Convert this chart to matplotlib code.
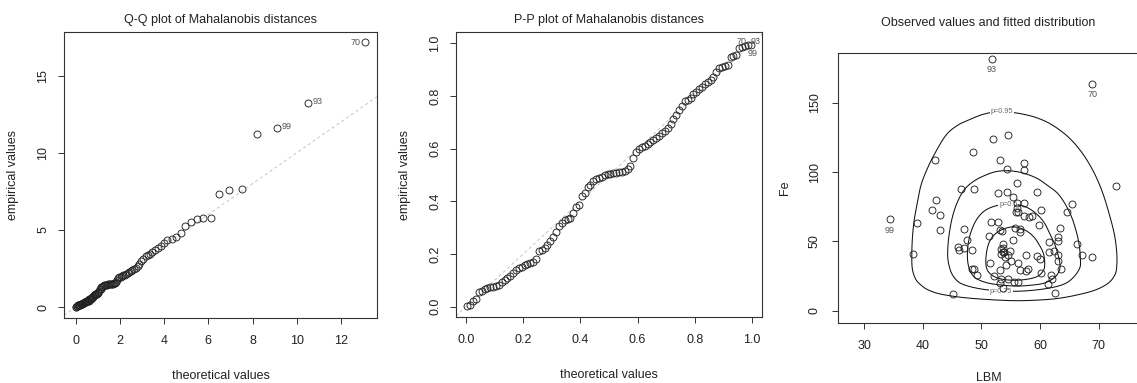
import numpy as np
import matplotlib
matplotlib.use("Agg")
import matplotlib.pyplot as plt

plt.rcParams['font.family'] = ['Liberation Sans', 'DejaVu Sans']

# ---------------- data ----------------
# Q-Q plot: theoretical vs empirical (sorted) Mahalanobis distances
qq_theoretical = [0.01, 0.03, 0.05, 0.07, 0.10, 0.12, 0.14, 0.16, 0.18, 0.21,
                  0.23, 0.25, 0.28, 0.30, 0.32, 0.35, 0.37, 0.40, 0.42, 0.45,
                  0.48, 0.50, 0.53, 0.56, 0.59, 0.61, 0.64, 0.67, 0.70, 0.73,
                  0.76, 0.79, 0.82, 0.85, 0.89, 0.92, 0.95, 0.99, 1.02, 1.06,
                  1.09, 1.13, 1.16, 1.20, 1.24, 1.28, 1.32, 1.36, 1.40, 1.44,
                  1.49, 1.53, 1.58, 1.62, 1.67, 1.72, 1.77, 1.82, 1.87, 1.93,
                  1.98, 2.04, 2.10, 2.16, 2.22, 2.28, 2.35, 2.42, 2.49, 2.56,
                  2.64, 2.71, 2.80, 2.88, 2.97, 3.06, 3.16, 3.26, 3.36, 3.47,
                  3.59, 3.71, 3.84, 3.98, 4.13, 4.34, 4.54, 4.76, 4.96, 5.20,
                  5.49, 5.76, 6.10, 6.48, 6.95, 7.51, 8.20, 9.12, 10.52, 13.08]
qq_empirical = [0.01, 0.01, 0.04, 0.06, 0.12, 0.13, 0.15, 0.15, 0.16, 0.16,
                0.17, 0.17, 0.21, 0.22, 0.24, 0.26, 0.29, 0.31, 0.32, 0.34,
                0.36, 0.37, 0.38, 0.39, 0.41, 0.49, 0.50, 0.52, 0.56, 0.60,
                0.64, 0.69, 0.77, 0.80, 0.83, 0.85, 0.86, 0.92, 1.00, 1.02,
                1.15, 1.18, 1.28, 1.31, 1.37, 1.40, 1.42, 1.44, 1.46, 1.48,
                1.49, 1.50, 1.50, 1.51, 1.52, 1.53, 1.57, 1.63, 1.78, 1.88,
                1.96, 1.98, 2.01, 2.06, 2.10, 2.14, 2.19, 2.24, 2.32, 2.37,
                2.46, 2.56, 2.68, 2.82, 3.00, 3.13, 3.31, 3.35, 3.44, 3.60,
                3.71, 3.84, 3.98, 4.13, 4.36, 4.43, 4.56, 4.78, 5.23, 5.51,
                5.69, 5.75, 5.79, 7.31, 7.57, 7.63, 11.20, 11.63, 13.25, 17.17]
qq_labels = {99: ("70", "left"), 98: ("93", "right"), 97: ("99", "right")}

# P-P plot
pp_theoretical = [0.005, 0.015, 0.025, 0.035, 0.045, 0.055, 0.065, 0.075, 0.085, 0.095,
                  0.105, 0.115, 0.125, 0.135, 0.145, 0.155, 0.165, 0.175, 0.185, 0.195,
                  0.205, 0.215, 0.225, 0.235, 0.245, 0.255, 0.265, 0.275, 0.285, 0.295,
                  0.305, 0.315, 0.325, 0.335, 0.345, 0.355, 0.365, 0.375, 0.385, 0.395,
                  0.405, 0.415, 0.425, 0.435, 0.445, 0.455, 0.465, 0.475, 0.485, 0.495,
                  0.505, 0.515, 0.525, 0.535, 0.545, 0.555, 0.565, 0.575, 0.585, 0.595,
                  0.605, 0.615, 0.625, 0.635, 0.645, 0.655, 0.665, 0.675, 0.685, 0.695,
                  0.705, 0.715, 0.725, 0.735, 0.745, 0.755, 0.765, 0.775, 0.785, 0.795,
                  0.805, 0.815, 0.825, 0.835, 0.845, 0.855, 0.865, 0.875, 0.885, 0.895,
                  0.905, 0.915, 0.925, 0.935, 0.945, 0.955, 0.965, 0.975, 0.985, 0.995]
pp_empirical = [0.003, 0.006, 0.022, 0.028, 0.055, 0.060, 0.068, 0.072, 0.074, 0.076,
                0.078, 0.082, 0.095, 0.100, 0.108, 0.118, 0.128, 0.138, 0.146, 0.152,
                0.158, 0.163, 0.167, 0.171, 0.180, 0.210, 0.216, 0.222, 0.236, 0.250,
                0.266, 0.282, 0.308, 0.318, 0.328, 0.334, 0.338, 0.355, 0.378, 0.386,
                0.420, 0.430, 0.455, 0.462, 0.478, 0.484, 0.489, 0.494, 0.499, 0.503,
                0.505, 0.507, 0.508, 0.510, 0.512, 0.515, 0.522, 0.536, 0.566, 0.586,
                0.600, 0.605, 0.610, 0.618, 0.625, 0.632, 0.640, 0.648, 0.660, 0.668,
                0.680, 0.695, 0.712, 0.728, 0.748, 0.762, 0.780, 0.784, 0.792, 0.806,
                0.815, 0.825, 0.835, 0.845, 0.852, 0.862, 0.874, 0.892, 0.905, 0.910,
                0.914, 0.918, 0.948, 0.952, 0.956, 0.982, 0.986, 0.989, 0.992, 0.995]
pp_labels = {99: ("70", "left"), 98: ("93", "right"), 97: ("99", "right")}

# Observed values (LBM, Fe)
lbm = [51.8, 68.9, 34.3, 73.0, 38.3, 39.0, 45.2, 62.5, 54.5, 52.0,
       48.6, 42.0, 53.1, 57.3, 57.2, 54.4, 56.1, 46.5, 48.8, 52.8,
       54.4, 59.4, 42.2, 41.5, 43.0, 65.5, 64.6, 55.4, 56.0, 57.3,
       60.2, 56.0, 56.3, 55.9, 57.2, 58.2, 58.6, 59.9, 51.6, 52.8,
       63.4, 47.0, 43.0, 53.2, 53.5, 55.8, 56.6, 56.6, 51.2, 63.0,
       61.5, 63.0, 55.4, 47.6, 53.7, 66.3, 46.0, 47.0, 46.2, 48.3,
       53.4, 53.6, 53.3, 53.8, 54.8, 54.6, 54.1, 62.4, 63.0, 57.6,
       61.6, 67.1, 68.8, 59.5, 60.0, 63.0, 55.0, 54.2, 51.4, 56.3,
       63.5, 48.4, 48.8, 49.2, 53.2, 56.5, 57.9, 57.6, 60.1, 61.8,
       62.0, 52.2, 53.3, 54.6, 55.5, 56.3, 53.1, 53.7, 61.4, 53.6]
fe = [182.0, 163.9, 65.9, 90.0, 40.9, 63.1, 11.8, 12.8, 127.1, 124.0,
      114.8, 108.8, 108.8, 106.9, 101.8, 102.1, 91.9, 87.9, 87.9, 85.0,
      86.0, 86.0, 79.9, 72.7, 69.1, 77.0, 71.0, 82.3, 78.0, 78.0,
      72.9, 73.9, 71.0, 71.5, 68.6, 67.9, 68.2, 62.1, 64.0, 64.0,
      59.9, 59.0, 58.0, 58.0, 57.8, 59.9, 58.7, 57.0, 54.2, 52.9,
      49.8, 50.0, 50.9, 50.9, 47.9, 47.9, 46.2, 45.0, 44.0, 44.0,
      44.2, 42.1, 40.9, 42.0, 43.1, 40.5, 39.0, 43.4, 40.2, 40.2,
      42.6, 40.0, 38.4, 39.2, 37.1, 35.9, 36.1, 33.1, 34.2, 34.2,
      30.3, 30.3, 30.3, 26.0, 29.4, 29.4, 30.3, 28.9, 26.9, 25.5,
      22.6, 25.0, 22.7, 22.7, 21.0, 21.0, 20.2, 16.1, 19.3, 45.5]
obs_labels = {0: "93", 1: "70", 2: "99"}

# Fitted distribution contours (outline vertices, LBM / Fe)
c95_lbm = [53.5, 50.5, 48.0, 46.0, 44.0, 42.1, 40.8, 39.7, 39.1, 38.5, 38.2, 38.1, 38.2,
           38.8, 39.8, 40.8, 42.5, 45.0, 48.0, 52.0, 55.8, 59.5, 63.0, 66.5, 69.5, 71.7,
           72.8, 73.1, 73.1, 72.7, 71.8, 70.7, 69.3, 67.5, 65.4, 63.0, 60.5, 57.5]
c95_fe = [143.8, 142.0, 138.0, 134.0, 127.0, 114.0, 103.0, 91.0, 79.0, 65.0, 52.0, 40.0, 30.0,
          22.5, 18.0, 15.2, 12.5, 10.5, 9.0, 7.8, 7.2, 7.6, 8.8, 11.5, 15.0, 20.0,
          26.0, 32.0, 42.0, 55.0, 70.0, 85.0, 99.0, 112.0, 123.0, 131.5, 137.5, 141.5]
c75_lbm = [54.6, 52.5, 50.5, 48.6, 47.0, 45.8, 45.0, 44.5, 44.25, 44.3, 44.9, 46.0, 47.5,
           50.0, 52.5, 55.8, 59.0, 62.3, 64.5, 65.9, 66.8, 66.9, 66.7, 66.2, 65.4, 64.3,
           63.0, 61.4, 59.5, 57.0]
c75_fe = [101.0, 100.4, 97.5, 93.2, 87.0, 77.5, 67.0, 55.8, 45.0, 36.0, 27.0, 21.0, 18.0,
          15.6, 14.5, 14.0, 14.8, 16.9, 20.0, 25.0, 31.0, 37.0, 47.0, 57.0, 67.5, 77.0,
          84.7, 90.0, 95.5, 99.5]
c50_lbm = [54.6, 52.3, 50.5, 49.2, 48.3, 47.8, 47.6, 47.7, 48.2, 49.2, 51.5, 55.5, 58.5,
           60.8, 62.5, 63.3, 63.4, 63.1, 62.5, 61.6, 60.8, 59.5, 57.8, 56.2]
c50_fe = [77.0, 75.5, 72.0, 66.0, 58.0, 50.0, 42.0, 34.0, 27.5, 23.0, 19.6, 17.8, 18.4,
          20.0, 24.0, 29.0, 34.0, 40.0, 48.0, 56.0, 63.0, 69.5, 74.5, 76.5]
c25_lbm = [55.5, 53.5, 52.0, 51.2, 50.8, 50.8, 51.4, 52.8, 55.0, 57.5, 59.5, 60.5, 60.8,
           60.6, 59.8, 58.9, 57.5]
c25_fe = [60.5, 58.5, 54.0, 48.0, 40.0, 32.0, 27.0, 23.5, 22.0, 22.5, 24.6, 28.5, 33.0,
          41.0, 48.0, 53.4, 58.0]
contour_levels = ["p=0.95", "p=0.75", "p=0.5", "p=0.25"]
contour_label_pos = {"p=0.95": (53.5, 143.5), "p=0.75": (53.3, 13.8), "p=0.5": (54.6, 76.5)}

# ---------------- helpers ----------------
INK = '#222222'
GREY_TXT = '#555555'


def closed_curve(xs, ys, n=16):
    P = np.column_stack([xs, ys]).astype(float)
    m = len(P)
    t = np.linspace(0, 1, n, endpoint=False)[:, None]
    segs = []
    for k in range(m):
        p0, p1, p2, p3 = P[k - 1], P[k], P[(k + 1) % m], P[(k + 2) % m]
        seg = 0.5 * ((2 * p1) + (-p0 + p2) * t + (2 * p0 - 5 * p1 + 4 * p2 - p3) * t ** 2
                     + (-p0 + 3 * p1 - 3 * p2 + p3) * t ** 3)
        segs.append(seg)
    out = np.vstack(segs + [P[:1]])
    return out[:, 0], out[:, 1]


def style_axes(ax, xticks, yticks, xfmt=None, yfmt=None):
    for s in ax.spines.values():
        s.set_color('#333333')
        s.set_linewidth(0.8)
    ax.set_xticks(xticks)
    ax.set_yticks(yticks)
    if xfmt:
        ax.set_xticklabels([xfmt.format(v) for v in xticks])
    if yfmt:
        ax.set_yticklabels([yfmt.format(v) for v in yticks])
    ax.tick_params(axis='both', direction='out', length=4.5, width=0.7,
                   color='#333333', labelsize=9, labelcolor=INK)
    ax.tick_params(axis='x', pad=8)
    ax.tick_params(axis='y', pad=6)
    for lab in ax.get_yticklabels():
        lab.set_rotation(90)
        lab.set_va('center')


def set_labels(ax, xl, yl, title, xl_off, yl_off, title_off):
    h = ax.get_position().height * 383
    w = ax.get_position().width * 1137
    ax.set_xlabel(xl, fontsize=9, color=INK)
    ax.xaxis.set_label_coords(0.5, -xl_off / h)
    ax.xaxis.label.set_va('center')
    ax.set_ylabel(yl, fontsize=9, color=INK)
    ax.yaxis.set_label_coords(-yl_off / w, 0.5)
    ax.yaxis.label.set_va('center')
    ax.set_title(title, fontsize=9, color=INK, y=1 + title_off / h, va='center', pad=0)


fig = plt.figure(figsize=(11.37, 3.83), dpi=100)
fig.patch.set_facecolor('white')

mk = dict(marker='o', linestyle='none', markersize=5.0, markerfacecolor='none',
          markeredgecolor=INK, markeredgewidth=0.65)

# ---------------- panel 1: Q-Q ----------------
ax1 = fig.add_axes([64 / 1137, 65 / 383, 313 / 1137, 286 / 383])
ax1.axline((0, 0), slope=1, color='#c4c4c4', lw=0.7, linestyle=(0, (3, 3)), zorder=1)
ax1.plot(qq_theoretical, qq_empirical, zorder=2, **mk)
for idx, (txt, side) in qq_labels.items():
    off = (-3, 0) if side == 'left' else (3, 1)
    ax1.annotate(txt, (qq_theoretical[idx], qq_empirical[idx]), xytext=off,
                 textcoords='offset points', ha='right' if side == 'left' else 'left',
                 va='center', fontsize=6.5, color=GREY_TXT)
ax1.set_xlim(-0.53, 13.63)
ax1.set_ylim(-0.71, 17.83)
style_axes(ax1, [0, 2, 4, 6, 8, 10, 12], [0, 5, 10, 15])
set_labels(ax1, 'theoretical values', 'empirical values',
           'Q-Q plot of Mahalanobis distances', 58, 51, 12)

# ---------------- panel 2: P-P ----------------
ax2 = fig.add_axes([456 / 1137, 66 / 383, 306 / 1137, 285 / 383])
ax2.axline((0, 0), slope=1, color='#c4c4c4', lw=0.7, linestyle=(0, (3, 3)), zorder=1)
ax2.plot(pp_theoretical, pp_empirical, zorder=2, **mk)
pp_offsets = {99: (-3, 2), 98: (2, 3), 97: (2, -5)}
for idx, (txt, side) in pp_labels.items():
    ax2.annotate(txt, (pp_theoretical[idx], pp_empirical[idx]), xytext=pp_offsets[idx],
                 textcoords='offset points', ha='right' if side == 'left' else 'left',
                 va='center', fontsize=6.5, color=GREY_TXT, annotation_clip=False,
                 clip_on=True)
ax2.set_xlim(-0.0346, 1.0346)
ax2.set_ylim(-0.039, 1.043)
style_axes(ax2, [0, 0.2, 0.4, 0.6, 0.8, 1.0], [0, 0.2, 0.4, 0.6, 0.8, 1.0],
           xfmt='{:.1f}', yfmt='{:.1f}')
set_labels(ax2, 'theoretical values', 'empirical values',
           'P-P plot of Mahalanobis distances', 58, 51, 12)

# ---------------- panel 3: observed + fitted contours ----------------
ax3 = fig.add_axes([838 / 1137, 60 / 383, 301 / 1137, 270 / 383])
for (cx, cy), lev in zip([(c95_lbm, c95_fe), (c75_lbm, c75_fe), (c50_lbm, c50_fe),
                          (c25_lbm, c25_fe)], contour_levels):
    sx, sy = closed_curve(cx, cy)
    ax3.plot(sx, sy, color='#111111', lw=0.75, zorder=1)
    if lev in contour_label_pos:
        lx, ly = contour_label_pos[lev]
        ax3.text(lx, ly, lev, fontsize=5.2, color='#666666', ha='center', va='center',
                 zorder=2, bbox=dict(facecolor='white', edgecolor='none', pad=0.6))
ax3.plot(lbm, fe, zorder=3, **mk)
for idx, txt in obs_labels.items():
    ax3.annotate(txt, (lbm[idx], fe[idx]), xytext=(0, -8), textcoords='offset points',
                 ha='center', va='center', fontsize=6.5, color=GREY_TXT)
ax3.set_xlim(25.5, 76.9)
ax3.set_ylim(-8.9, 186)
style_axes(ax3, [30, 40, 50, 60, 70], [0, 50, 100, 150])
ax3.tick_params(axis='y', pad=8)
set_labels(ax3, 'LBM', 'Fe', 'Observed values and fitted distribution', 55, 53, 30)

fig.savefig('out.png', dpi=100, facecolor='white')
